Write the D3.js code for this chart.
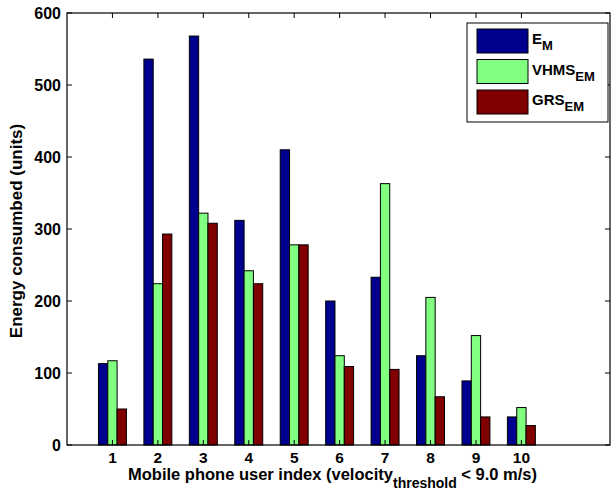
<!DOCTYPE html>
<html>
<head>
<meta charset="utf-8">
<script src="https://cdn.jsdelivr.net/npm/d3@7"></script>
<style>
  body { margin: 0; background: #fff; }
  text { font-family: "Liberation Sans", Arial, sans-serif; font-weight: bold; fill: #000; }
</style>
</head>
<body>
<div id="chart"></div>
<script>
// data
const users = [1, 2, 3, 4, 5, 6, 7, 8, 9, 10];
const seriesNames = ["E", "VHMS", "GRS"];
const seriesSubs = ["M", "EM", "EM"];
const eM = [113, 536, 568, 312, 410, 200, 233, 124, 89, 39];
const vhmsEM = [117, 224, 322, 242, 278, 124, 363, 205, 152, 52];
const grsEM = [50, 293, 308, 224, 278, 109, 105, 67, 39, 27];
const yTicks = [0, 100, 200, 300, 400, 500, 600];
const colors = ["#00008f", "#80ff80", "#800000"];

const W = 612, H = 496;
const margin = { top: 13, right: 2, bottom: 51, left: 67 };

const svg = d3.select("#chart")
    .append("svg")
    .attr("width", W)
    .attr("height", H);

const x = d3.scaleLinear()
    .domain([0, 11.95])
    .range([margin.left, W - margin.right]);

const y = d3.scaleLinear()
    .domain([0, 600])
    .range([H - margin.bottom, margin.top]);

const allSeries = [eM, vhmsEM, grsEM];
const barW = 0.205; // in category units
const offsets = [-1, 0, 1];

// bars
allSeries.forEach(function(vals, si) {
    svg.append("g")
        .selectAll("rect")
        .data(vals)
        .enter()
        .append("rect")
        .attr("x", (d, i) => x(users[i] + offsets[si] * barW - barW / 2))
        .attr("width", x(barW) - x(0))
        .attr("y", d => y(d))
        .attr("height", d => y(0) - y(d))
        .attr("fill", colors[si])
        .attr("stroke", "#000")
        .attr("stroke-width", 1);
});

// axes box
const x0 = x.range()[0], x1 = x.range()[1];
const y0 = y.range()[0], y1 = y.range()[1];
svg.append("rect")
    .attr("x", x0).attr("y", y1)
    .attr("width", x1 - x0).attr("height", y0 - y1)
    .attr("fill", "none")
    .attr("stroke", "#000")
    .attr("stroke-width", 1.2);

// ticks (inward, mirrored like matlab)
const tickLen = 5;
svg.append("g").selectAll("line")
    .data(yTicks).enter().append("line")
    .attr("x1", x0).attr("x2", x0 + tickLen)
    .attr("y1", d => y(d)).attr("y2", d => y(d))
    .attr("stroke", "#000");
svg.append("g").selectAll("line")
    .data(yTicks).enter().append("line")
    .attr("x1", x1).attr("x2", x1 - tickLen)
    .attr("y1", d => y(d)).attr("y2", d => y(d))
    .attr("stroke", "#000");
svg.append("g").selectAll("line")
    .data(users).enter().append("line")
    .attr("x1", d => x(d)).attr("x2", d => x(d))
    .attr("y1", y1).attr("y2", y1 + tickLen)
    .attr("stroke", "#000");
svg.append("g").selectAll("line")
    .data(users).enter().append("line")
    .attr("x1", d => x(d)).attr("x2", d => x(d))
    .attr("y1", y0).attr("y2", y0 - tickLen)
    .attr("stroke", "#000");

// tick labels
svg.append("g").selectAll("text")
    .data(yTicks).enter().append("text")
    .attr("x", x0 - 6)
    .attr("y", d => y(d) + 6)
    .attr("text-anchor", "end")
    .style("font-size", "16px")
    .text(d => d);
svg.append("g").selectAll("text")
    .data(users).enter().append("text")
    .attr("x", d => x(d))
    .attr("y", y0 + 18)
    .attr("text-anchor", "middle")
    .style("font-size", "15.5px")
    .text(d => d);

// axis labels
const xl = svg.append("text")
    .attr("x", 128)
    .attr("y", y0 + 35)
    .style("font-size", "16.5px");
xl.append("tspan").text("Mobile phone user index (velocity");
xl.append("tspan").attr("dy", 8).style("font-size", "14px").text("threshold");
xl.append("tspan").attr("dy", -8).text(" < 9.0 m/s)");

svg.append("text")
    .attr("transform", "translate(22,231) rotate(-90)")
    .attr("text-anchor", "middle")
    .style("font-size", "17px")
    .text("Energy consumbed (units)");

// legend
const lg = svg.append("g").attr("transform", "translate(467,23)");
lg.append("rect")
    .attr("width", 141).attr("height", 99)
    .attr("fill", "#fff").attr("stroke", "#000");
seriesNames.forEach(function(name, i) {
    lg.append("rect")
        .attr("x", 10).attr("y", 6 + i * 30.5)
        .attr("width", 51).attr("height", 24)
        .attr("fill", colors[i]).attr("stroke", "#000");
    const t = lg.append("text")
        .attr("x", 65).attr("y", 21 + i * 30.5)
        .style("font-size", "15px");
    t.append("tspan").text(name);
    t.append("tspan").attr("dy", 6).style("font-size", "13px").text(seriesSubs[i]);
});
</script>
</body>
</html>
